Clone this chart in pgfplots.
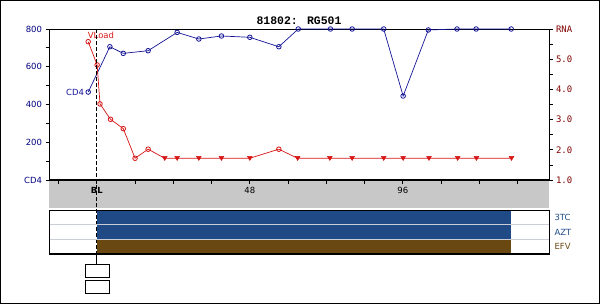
\documentclass[border=0pt]{standalone}
\usepackage{pgfplots}
\pgfplotsset{compat=1.18}
\usepackage{fontspec}
\setmainfont{DejaVu Sans}
\newfontfamily\monofont{DejaVu Sans Mono}
\newfontfamily\titlefont{Liberation Mono}
\definecolor{cdblue}{RGB}{20,20,150}
\definecolor{vlred}{RGB}{215,20,20}
\definecolor{navy}{RGB}{0,0,128}
\definecolor{maroon}{RGB}{128,0,0}
\definecolor{bandgray}{RGB}{200,200,200}
\definecolor{barblue}{RGB}{31,74,133}
\definecolor{barbrown}{RGB}{106,72,18}
\definecolor{sepgray}{RGB}{200,205,215}
\pgfplotsset{
  common/.style={
    at={(49bp,124bp)}, anchor=south west, scale only axis,
    width=500bp, height=151bp, xmin=-15, xmax=141.86,
    clip=false, tick align=outside,
    major tick length=3.5bp, minor tick length=3.5bp,
    every tick/.style={black, line width=0.8bp},
    every minor tick/.style={black, line width=0.8bp},
    axis line style={line width=0.8bp},
    /pgf/number format/assume math mode=true,
  }
}
\begin{document}
\begin{tikzpicture}[x=1bp,y=1bp]
\useasboundingbox (0,0) rectangle (600,304);
\draw[line width=1bp] (0.5,0.5) rectangle (599.5,303.5);
\fill[bandgray] (49,96) rectangle (549,124);
\node[font=\titlefont\bfseries\fontsize{11.5}{12}\selectfont, anchor=base] at (299,280) {81802: RG501};

\begin{axis}[common,
  ymin=0, ymax=800,
  xtick pos=bottom, ytick pos=left,
  xtick={-12,0,12,24,36,48,60,72,84,96,108,120,132},
  xticklabels={{},\textbf{BL},{},{},{},48,{},{},{},96,{},{},{}},
  ytick={0,200,400,600,800}, yticklabels={CD4,200,400,600,800},
  minor ytick={100,300,500,700},
  yticklabel style={font=\fontsize{8.5}{10}\selectfont, text=navy},
  xticklabel style={font=\fontsize{8.5}{10}\selectfont, text=black},
]
\coordinate (bltop) at (axis cs:0,800);
\draw[line width=1.6bp] (rel axis cs:0,0) -- (rel axis cs:1,0);
\addplot[cdblue, line width=0.7bp, mark=o, mark size=2.3bp, mark options={line width=0.8bp, fill=none}] coordinates {
(-2.7,466) (4.1,706) (8.3,671) (16.1,685) (25.2,782) (32,747) (39.1,763) (48,756) (57.1,706) (63.2,800) (73.3,800) (80.1,800) (90,800) (96.1,445) (104,795) (113,800) (119,800) (130,800)
};
\node[anchor=east, inner sep=0pt, xshift=-4bp, text=cdblue, font=\fontsize{8.5}{10}\selectfont] at (axis cs:-2.7,466) {CD4};
\end{axis}

\begin{axis}[common,
  ymin=1, ymax=6,
  axis x line=none, axis y line*=right,
  ytick={1,2,3,4,5,6}, yticklabels={1.0,2.0,3.0,4.0,5.0,RNA},
  minor ytick={1.5,2.5,3.5,4.5,5.5},
  yticklabel style={font=\monofont\fontsize{9}{10}\selectfont, text=maroon},
]
\addplot[vlred, line width=0.7bp, mark=none] coordinates {
(-2.7,5.58) (0.1,4.81) (1,3.52) (4.3,3.01) (8.3,2.70) (12,1.72) (16.1,2.02) (21.3,1.72) (25.2,1.72) (32,1.72) (39.1,1.72) (48,1.72) (57.1,2.02) (63,1.72) (73.1,1.72) (80.1,1.72) (90,1.72) (96.1,1.72) (104.2,1.72) (113.2,1.72) (119.1,1.72) (130.1,1.72)
};
\addplot[vlred, only marks, mark=o, mark size=2.3bp, mark options={line width=0.8bp, fill=none}] coordinates {
(-2.7,5.58) (0.1,4.81) (1,3.52) (4.3,3.01) (8.3,2.70) (12,1.72) (16.1,2.02) (57.1,2.02)
};
\addplot[vlred, only marks, mark=triangle*, mark size=2.8bp, mark options={rotate=180, fill=vlred, line width=0.5bp}] coordinates {
(21.3,1.74) (25.2,1.74) (32,1.74) (39.1,1.74) (48,1.74) (63,1.74) (73.1,1.74) (80.1,1.74) (90,1.74) (96.1,1.74) (104.2,1.74) (113.2,1.74) (119.1,1.74) (130.1,1.74)
};
\node[anchor=base west, inner sep=0pt, xshift=-0.5bp, yshift=3.5bp, text=vlred, font=\fontsize{8.5}{10}\selectfont] at (axis cs:-2.7,5.58) {VLoad};
\end{axis}

\draw[dash pattern=on 4bp off 2bp, line width=0.8bp] (bltop) -- (bltop |- 0,50);
\draw[line width=0.8bp] (bltop |- 0,50) -- (bltop |- 0,40);

\begin{axis}[at={(49bp,50bp)}, anchor=south west, scale only axis,
  width=500bp, height=44bp, xmin=-15, xmax=141.86, ymin=0, ymax=3,
  ticks=none, axis line style={line width=0.8bp}, clip=false, axis on top]
\addplot[fill=barblue, draw=none] coordinates {(0,2) (130,2) (130,3) (0,3)} -- cycle;
\addplot[fill=barblue, draw=none] coordinates {(0,1) (130,1) (130,2) (0,2)} -- cycle;
\addplot[fill=barbrown, draw=none] coordinates {(0,0) (130,0) (130,1) (0,1)} -- cycle;
\draw[sepgray, line width=0.8bp] (axis cs:-15,1) -- (axis cs:141.86,1);
\draw[sepgray, line width=0.8bp] (axis cs:-15,2) -- (axis cs:141.86,2);
\draw[line width=1.6bp] (rel axis cs:0,0) -- (rel axis cs:1,0);
\node[anchor=west, xshift=2bp, text=barblue, font=\fontsize{8.5}{10}\selectfont] at (rel axis cs:1,0.8333) {3TC};
\node[anchor=west, xshift=2bp, text=barblue, font=\fontsize{8.5}{10}\selectfont] at (rel axis cs:1,0.5) {AZT};
\node[anchor=west, xshift=2bp, text=barbrown, font=\fontsize{8.5}{10}\selectfont] at (rel axis cs:1,0.1667) {EFV};
\end{axis}

\draw[line width=0.8bp] (85,27) rectangle (109,40);
\draw[line width=0.8bp] (85,11) rectangle (109,24);
\end{tikzpicture}
\end{document}
